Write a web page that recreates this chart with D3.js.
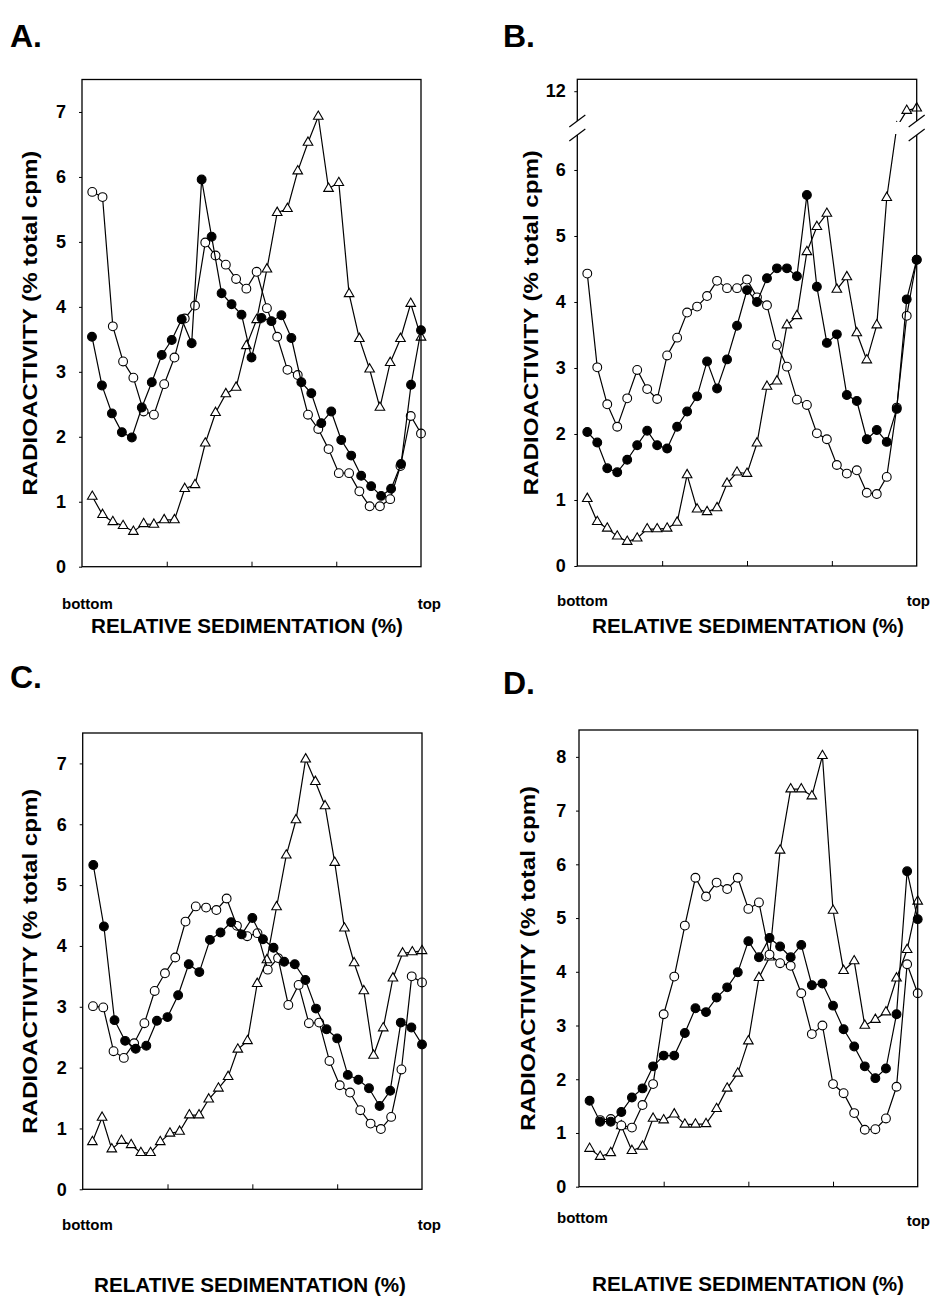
<!DOCTYPE html>
<html>
<head>
<meta charset="utf-8">
<script src="https://cdn.jsdelivr.net/npm/d3@7"></script>
<style>
  body { margin: 0; background: #fff; }
  text { font-family: "Liberation Sans", Arial, sans-serif; font-weight: bold; fill: #000; }
</style>
</head>
<body>
<svg id="drawing_region" width="933" height="1305"></svg>
<script>
// values, one value per gradient fraction (bottom -> top)
// open circles, filled circles, open triangles for each panel
const aOpen   = [5.77,5.69,3.70,3.16,2.91,2.39,2.34,2.81,3.22,3.82,4.02,4.99,4.79,4.65,4.43,4.28,4.54,3.98,3.54,3.03,2.95,2.34,2.12,1.81,1.44,1.44,1.16,0.93,0.93,1.04,1.55,2.32,2.05];
const aFilled = [3.54,2.79,2.36,2.07,1.99,2.45,2.84,3.26,3.49,3.81,3.44,5.96,5.08,4.21,4.04,3.88,3.22,3.83,3.78,3.87,3.52,2.84,2.67,2.21,2.39,1.95,1.71,1.40,1.24,1.09,1.20,1.58,2.80,3.64];
const aTri    = [1.08,0.80,0.69,0.63,0.54,0.66,0.65,0.72,0.72,1.20,1.26,1.90,2.37,2.66,2.76,3.40,3.80,4.58,5.45,5.51,6.09,6.53,6.93,5.82,5.91,4.20,3.51,3.04,2.45,3.14,3.51,4.05,3.53];

const bOpen   = [4.43,3.01,2.45,2.11,2.54,2.97,2.68,2.53,3.19,3.46,3.84,3.93,4.09,4.32,4.21,4.21,4.34,4.07,3.95,3.35,3.02,2.52,2.44,2.01,1.92,1.53,1.40,1.45,1.11,1.09,1.35,2.40,3.79,4.64];
const bFilled = [2.03,1.87,1.48,1.42,1.61,1.83,2.05,1.83,1.78,2.11,2.34,2.57,3.10,2.69,3.13,3.64,4.18,4.00,4.36,4.51,4.51,4.39,5.62,4.23,3.38,3.51,2.59,2.50,1.92,2.06,1.88,2.38,4.04,4.64];
// fraction 32 is off scale (inside the axis break)
const bTri    = [1.02,0.67,0.57,0.45,0.37,0.42,0.56,0.56,0.57,0.66,1.38,0.86,0.82,0.88,1.25,1.42,1.40,1.86,2.72,2.80,3.65,3.79,4.76,5.14,5.34,4.19,4.38,3.53,3.12,3.65,5.58,9.0,11.35,11.43];

const cOpen   = [3.01,2.99,2.27,2.16,2.40,2.73,3.26,3.55,3.81,4.40,4.65,4.63,4.59,4.78,4.33,4.16,4.21,3.61,3.80,3.03,3.36,2.73,2.74,2.11,1.71,1.59,1.30,1.08,0.99,1.19,1.97,3.50,3.40];
const cFilled = [5.33,4.32,2.78,2.44,2.31,2.36,2.77,2.83,3.19,3.70,3.57,4.10,4.22,4.39,4.19,4.46,4.11,3.97,3.74,3.70,3.44,2.97,2.63,2.48,1.88,1.80,1.66,1.37,1.62,2.74,2.66,2.38];
const cTri    = [0.78,1.18,0.66,0.80,0.73,0.60,0.60,0.78,0.92,0.95,1.22,1.22,1.48,1.66,1.85,2.30,2.44,3.38,3.77,4.64,5.49,6.07,7.07,6.70,6.30,5.37,4.29,3.72,3.26,2.20,2.65,3.47,3.88,3.90,3.92];

const dOpen   = [null,1.24,1.26,1.14,1.10,1.52,1.91,3.21,3.91,4.86,5.75,5.40,5.66,5.54,5.75,5.17,5.29,4.32,4.16,4.11,3.60,2.84,3.00,1.91,1.74,1.37,1.06,1.07,1.27,1.86,4.14,3.60];
const dFilled = [1.60,1.21,1.21,1.39,1.66,1.83,2.24,2.44,2.44,2.86,3.32,3.25,3.52,3.71,3.99,4.57,4.27,4.63,4.47,4.27,4.50,3.75,3.78,3.37,2.93,2.61,2.24,2.02,2.20,3.21,5.87,4.98];
const dTri    = [0.71,0.56,0.63,1.13,0.67,0.75,1.27,1.24,1.35,1.16,1.16,1.17,1.45,1.83,2.11,2.71,3.89,4.27,6.26,7.40,7.40,7.27,8.02,5.14,4.02,4.20,3.00,3.11,3.25,3.88,4.41,5.31];

// tick labels
const aTicks = [0,1,2,3,4,5,6,7];
const bTicks = [0,1,2,3,4,5,6,12];
const cTicks = [0,1,2,3,4,5,6,7];
const dTicks = [0,1,2,3,4,5,6,7,8];
const xTicks = [25,50,75];

const yTitle = 'RADIOACTIVITY (% total cpm)';
const xTitle = 'RELATIVE SEDIMENTATION (%)';

const svg = d3.select('#drawing_region');

const panels = [
  { id: 'A', label: 'A.', left: 82, right: 421, top: 79.5, bottom: 566.7, yDomain: [0, 7.5], ticks: aTicks,
    open: aOpen, filled: aFilled, tri: aTri, pad: 16,
    letter: [10, 47], yTitleX: 30, botY: 609, topY: 609, topX: 441, botX: 62, titleX: 247, titleY: 633 },
  { id: 'B', label: 'B.', left: 577.3, right: 916.7, top: 79.3, bottom: 566, ticks: bTicks,
    open: bOpen, filled: bFilled, tri: bTri, pad: 11.5, broken: true,
    letter: [503, 47], yTitleX: 531, botY: 606, topY: 606, topX: 930, botX: 557, titleX: 748, titleY: 633 },
  { id: 'C', label: 'C.', left: 82.7, right: 422, top: 733, bottom: 1189.3, yDomain: [0, 7.5], ticks: cTicks,
    open: cOpen, filled: cFilled, tri: cTri, pad: 16,
    letter: [10, 688], yTitleX: 30, botY: 1230, topY: 1230, topX: 441, botX: 62, titleX: 250, titleY: 1292 },
  { id: 'D', label: 'D.', left: 579, right: 917.7, top: 730, bottom: 1186.7, yDomain: [0, 8.5], ticks: dTicks,
    open: dOpen, filled: dFilled, tri: dTri, pad: 12.7,
    letter: [503, 694], yTitleX: 528, botY: 1223, topY: 1226, topX: 930, botX: 557, titleX: 748, titleY: 1291 }
];

panels.forEach(p => drawPanel(p));

function drawPanel(p) {
  const g = svg.append('g');

  const x = d3.scaleLinear().domain([0, 100]).range([p.left, p.right]);
  let y;
  if (p.broken) {
    // broken axis: 0-6.5 below the break, 11-12.4 above it
    y = d3.scaleLinear().domain([0, 6.53, 11, 12.4]).range([p.bottom, 135, 121, p.top]);
  } else {
    y = d3.scaleLinear().domain(p.yDomain).range([p.bottom, p.top]);
  }

  // clip for the lines
  svg.append('clipPath').attr('id', 'clip' + p.id)
    .append('rect')
    .attr('x', p.left).attr('y', p.top)
    .attr('width', p.right - p.left).attr('height', p.bottom - p.top);

  // y axis
  const yaxis = d3.axisLeft(y).tickValues(p.ticks).tickSize(3).tickPadding(p.pad - 3).tickFormat(d3.format('d'));
  const yg = g.append('g').attr('transform', `translate(${p.left},0)`).call(yaxis);
  yg.select('.domain').remove();
  yg.selectAll('text').style('font-size', '18px').style('font-family', '"Liberation Sans", Arial, sans-serif').style('font-weight', 'bold');
  yg.selectAll('line').attr('stroke', '#000');

  // x axis: inner ticks only
  const xaxis = d3.axisBottom(x).tickValues(xTicks).tickSize(-5).tickFormat('');
  const xg = g.append('g').attr('transform', `translate(0,${p.bottom})`).call(xaxis);
  xg.select('.domain').remove();
  xg.selectAll('line').attr('stroke', '#000');

  // series: triangles, open circles, filled circles
  const line = d3.line().defined(d => d.v != null).x(d => x(d.x)).y(d => y(d.v));
  const toPts = vals => vals.map((v, i) => ({ x: 100 * (i + 1) / vals.length, v: v }));

  const sets = [
    { pts: toPts(p.tri), kind: 'tri' },
    { pts: toPts(p.open), kind: 'open' },
    { pts: toPts(p.filled), kind: 'filled' }
  ];

  sets.forEach(s => {
    g.append('path')
      .datum(s.pts)
      .attr('clip-path', `url(#clip${p.id})`)
      .attr('d', line)
      .attr('fill', 'none')
      .attr('stroke', '#000')
      .attr('stroke-width', 1.2);

    const pts = s.pts.filter(d => d.v != null);
    if (s.kind === 'tri') {
      g.selectAll(null)
        .data(pts)
        .join('path')
        .attr('transform', d => `translate(${x(d.x)},${y(d.v)})`)
        .attr('d', d3.symbol(d3.symbolTriangle, 40))
        .attr('fill', '#fff')
        .attr('stroke', '#000')
        .attr('stroke-width', 1.1);
    } else {
      g.selectAll(null)
        .data(pts)
        .join('circle')
        .attr('cx', d => x(d.x))
        .attr('cy', d => y(d.v))
        .attr('r', 4.4)
        .attr('fill', s.kind === 'open' ? '#fff' : '#000')
        .attr('stroke', '#000')
        .attr('stroke-width', 1.1);
    }
  });

  // plot frame
  g.append('rect')
    .attr('x', p.left).attr('y', p.top)
    .attr('width', p.right - p.left).attr('height', p.bottom - p.top)
    .attr('fill', 'none')
    .attr('stroke', '#000')
    .attr('stroke-width', 1.3);

  if (p.broken) {
    // hide everything inside the break
    g.append('rect')
      .attr('x', p.left + 1).attr('y', 122)
      .attr('width', p.right - p.left - 2).attr('height', 12)
      .attr('fill', '#fff');
    [p.left, p.right].forEach(x0 => {
      g.append('path')
        .attr('d', `M${x0 - 8},${121 + 6}L${x0 + 8},${121 - 6}L${x0 + 8},${135 - 6}L${x0 - 8},${135 + 6}Z`)
        .attr('fill', '#fff');
      [121, 135].forEach(c => {
        g.append('line')
          .attr('x1', x0 - 8).attr('y1', c + 6)
          .attr('x2', x0 + 8).attr('y2', c - 6)
          .attr('stroke', '#000')
          .attr('stroke-width', 1.2);
      });
    });
  }

  // texts
  g.append('text')
    .attr('x', p.letter[0]).attr('y', p.letter[1])
    .style('font-size', '32px')
    .text(p.label);

  g.append('text')
    .attr('transform', `translate(${p.yTitleX},${(p.top + p.bottom) / 2}) rotate(-90)`)
    .attr('text-anchor', 'middle')
    .attr('dy', '0.35em')
    .attr('textLength', 345)
    .attr('lengthAdjust', 'spacingAndGlyphs')
    .style('font-size', '20px')
    .text(yTitle);

  g.append('text')
    .attr('x', p.botX).attr('y', p.botY)
    .style('font-size', '15px')
    .text('bottom');

  g.append('text')
    .attr('x', p.topX).attr('y', p.topY)
    .attr('text-anchor', 'end')
    .style('font-size', '15px')
    .text('top');

  g.append('text')
    .attr('x', p.titleX).attr('y', p.titleY)
    .attr('text-anchor', 'middle')
    .attr('textLength', 312)
    .attr('lengthAdjust', 'spacingAndGlyphs')
    .style('font-size', '20px')
    .text(xTitle);
}
</script>
</body>
</html>
